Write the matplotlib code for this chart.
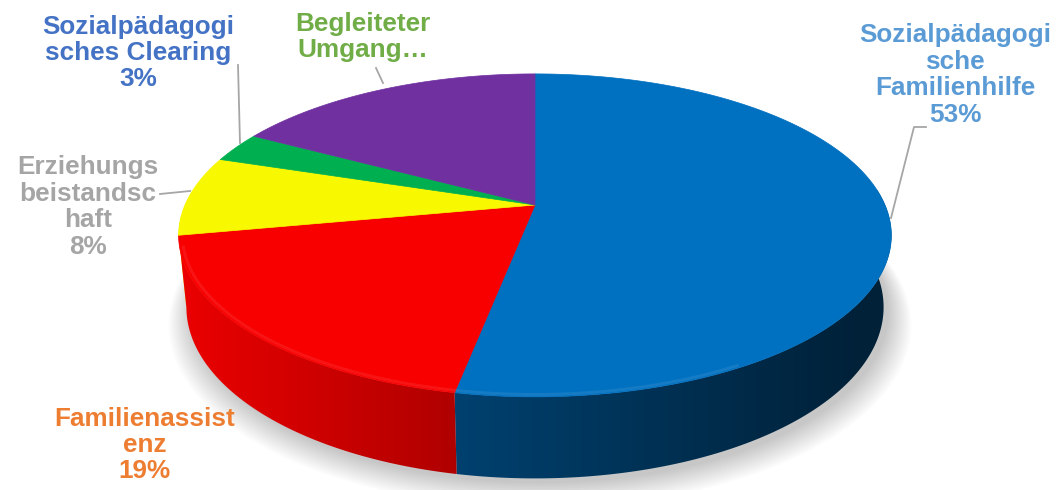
import numpy as np
import matplotlib
matplotlib.use("Agg")
import matplotlib.pyplot as plt
from matplotlib.colors import to_rgb
from matplotlib.patches import Polygon

# datos
categorias = ["Sozialpädagogische Familienhilfe", "Familienassistenz",
              "Erziehungsbeistandschaft", "Sozialpädagogisches Clearing",
              "Begleiteter Umgang"]
porcentajes = [53, 19, 8, 3, 17]
colores = ["#0070C0", "#F80000", "#F8F800", "#00B050", "#7030A0"]
etiquetas = ["Sozialpädagogi\nsche\nFamilienhilfe\n53%",
             "Familienassist\nenz\n19%",
             "Erziehungs\nbeistandsc\nhaft\n8%",
             "Sozialpädagogi\nsches Clearing\n3%",
             "Begleiteter\nUmgang…"]
colores_txt = ["#5B9BD5", "#ED7D31", "#A5A5A5", "#4472C4", "#70AD47"]

# geometria del pastel 3d (pixeles)
cx, cy = 535, 205
R = 350
se = 0.445
ce = np.sqrt(1 - se**2)
D = 4.76
h = 0.23


def proj(a, z=0.0, r=1.0):
    x = r * np.cos(a)
    y = r * np.sin(a)
    ys = y * se + z * ce
    zs = y * ce - z * se
    s = D / (D + zs)
    return cx + R * x * s, cy - R * ys * s


# oscurecimiento de la pared lateral segun x en pantalla
def sombra(x):
    t = (x - 178) / (890 - 178)
    return np.clip(0.95 - 0.62 * t, 0.36, 0.95)


fig = plt.figure(figsize=(10.58, 4.9), dpi=100)
ax = fig.add_axes([0, 0, 1, 1])
ax.set_xlim(0, 1058)
ax.set_ylim(490, 0)
ax.axis("off")

# sombra suave
ang = np.linspace(0, 2 * np.pi, 200)
for k in range(14):
    bx, by = proj(ang, -h)
    g = 1 + k * 0.005
    ax.fill(cx + (bx - cx) * g + 5, cy + (by - cy) * g + 5 + k * 0.5,
            color="#000000", alpha=0.014, lw=0, zorder=1)

# angulos de cada rebanada (desde arriba, sentido horario)
frac = np.array(porcentajes) / sum(porcentajes)
bordes = np.pi / 2 - 2 * np.pi * np.concatenate([[0], np.cumsum(frac)])

# paredes laterales con degradado
gx = np.arange(150, 920)
gy = np.arange(190, 490)
paredes = []
for i in range(len(porcentajes)):
    t = np.linspace(bordes[i], bordes[i + 1], 300)
    t = t[np.sin(t) < 0.3]
    if len(t) < 2:
        continue
    paredes.append((np.mean(np.sin(t)), i, t))
paredes.sort(key=lambda p: -p[0])
for _, i, t in paredes:
    tx, ty = proj(t, 0)
    bx, by = proj(t[::-1], -h)
    poly = Polygon(np.c_[np.r_[tx, bx], np.r_[ty, by]], closed=True,
                   fc="none", ec="none")
    ax.add_patch(poly)
    base = np.array(to_rgb(colores[i]))
    f = sombra(gx)
    if i == 0:
        f = f * 0.82
    img = np.ones((len(gy), len(gx), 3)) * base[None, None, :] * f[None, :, None]
    im = ax.imshow(img, extent=(gx[0], gx[-1] + 1, gy[-1] + 1, gy[0]),
                   zorder=2, aspect="auto", interpolation="bilinear")
    im.set_clip_path(poly)

# cara superior
for i in range(len(porcentajes)):
    t = np.linspace(bordes[i], bordes[i + 1], 200)
    px, py = proj(t, 0)
    ax.fill(np.r_[cx, px], np.r_[cy, py], color=colores[i], lw=0.5,
            ec=colores[i], zorder=3)
    # brillo del borde frontal
    m = (np.sin(t) < -0.25) & (np.cos(t) < 0.5)
    if m.sum() > 1:
        lx, ly = proj(t[m], 0, 0.99)
        c = np.array(to_rgb(colores[i]))
        c = c + (1 - c) * 0.18
        ax.plot(lx, ly, color=c, lw=2.2, alpha=0.45, zorder=4,
                solid_capstyle="butt")

# etiquetas
pos_txt = [(955, 75), (145, 445), (88, 207), (138, 53), (363, 37)]
for txt, (tx, ty), c in zip(etiquetas, pos_txt, colores_txt):
    ax.text(tx, ty, txt, color=c, fontsize=18.8, fontweight="bold",
            family="Liberation Sans", ha="center", va="center",
            linespacing=1.13, zorder=6)

# lineas guia
lineas = [([891, 914, 926], [218, 127, 127]),
          ([238, 240], [65, 143]),
          ([376, 383], [68, 83]),
          ([160, 190], [194, 191])]
for lx, ly in lineas:
    ax.plot(lx, ly, color="#A6A6A6", lw=1.3, zorder=5)

fig.savefig("out.png", dpi=100)
